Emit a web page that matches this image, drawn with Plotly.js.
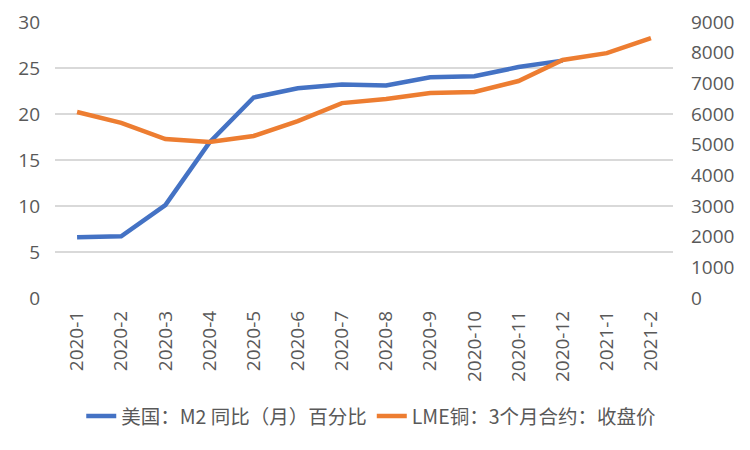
<!DOCTYPE html>
<html><head><meta charset="utf-8">
<script src="https://cdn.plot.ly/plotly-3.0.1.min.js"></script>
<style>body{margin:0;padding:0;background:#fff}#chart{width:750px;height:450px}</style>
</head><body><div id="chart"></div>
<script>
const categories = ["2020-1","2020-2","2020-3","2020-4","2020-5","2020-6","2020-7","2020-8","2020-9","2020-10","2020-11","2020-12","2021-1","2021-2"];
const m2Values = [6.6, 6.7, 10.1, 16.9, 21.8, 22.8, 23.2, 23.1, 24.0, 24.1, 25.1, 25.8, null, null];
const copperValues = [6065, 5710, 5185, 5090, 5285, 5770, 6355, 6490, 6685, 6720, 7075, 7760, 7985, 8475];
const seriesNames = ["美国：M2 同比（月）百分比", "LME铜：3个月合约：收盘价"];

const font = "'Open Sans','Noto Sans CJK SC',sans-serif";
const data = [
  {x: categories, y: m2Values, name: seriesNames[0], type: "scatter", mode: "lines",
   line: {color: "#4472C4", width: 4.5}, yaxis: "y"},
  {x: categories, y: copperValues, name: seriesNames[1], type: "scatter", mode: "lines",
   line: {color: "#ED7D31", width: 4.5}, yaxis: "y2"}
];
const layout = {
  width: 750, height: 450,
  margin: {l: 55, r: 77, t: 22, b: 152},
  paper_bgcolor: "#fff", plot_bgcolor: "#fff",
  font: {family: font, size: 19, color: "#595959"},
  showlegend: true,
  legend: {orientation: "h", x: 0.495, xanchor: "center", xref: "container", y: 0.075, yanchor: "middle", yref: "container",
           font: {family: "'Noto Sans CJK SC',sans-serif", size: 19.5, color: "#595959"}, traceorder: "normal"},
  xaxis: {type: "category", tickangle: -90, showgrid: false, zeroline: false, showline: false, automargin: false,
          ticks: "", tickfont: {size: 19, color: "#595959"}, range: [-0.5, 13.5], ticklabelstandoff: 8},
  yaxis: {range: [0, 30], dtick: 5, showgrid: true, gridcolor: "#D9D9D9", gridwidth: 1.3, automargin: false,
          zeroline: false, showline: false, ticks: "", tickfont: {size: 19, color: "#595959"}, ticklabelstandoff: 14},
  yaxis2: {range: [0, 9000], dtick: 1000, overlaying: "y", side: "right", showgrid: false, automargin: false,
           zeroline: false, showline: false, ticks: "", tickfont: {size: 19, color: "#595959"}, ticklabelstandoff: 17}
};
Plotly.newPlot("chart", data, layout, {displayModeBar: false, staticPlot: true});
</script></body></html>
